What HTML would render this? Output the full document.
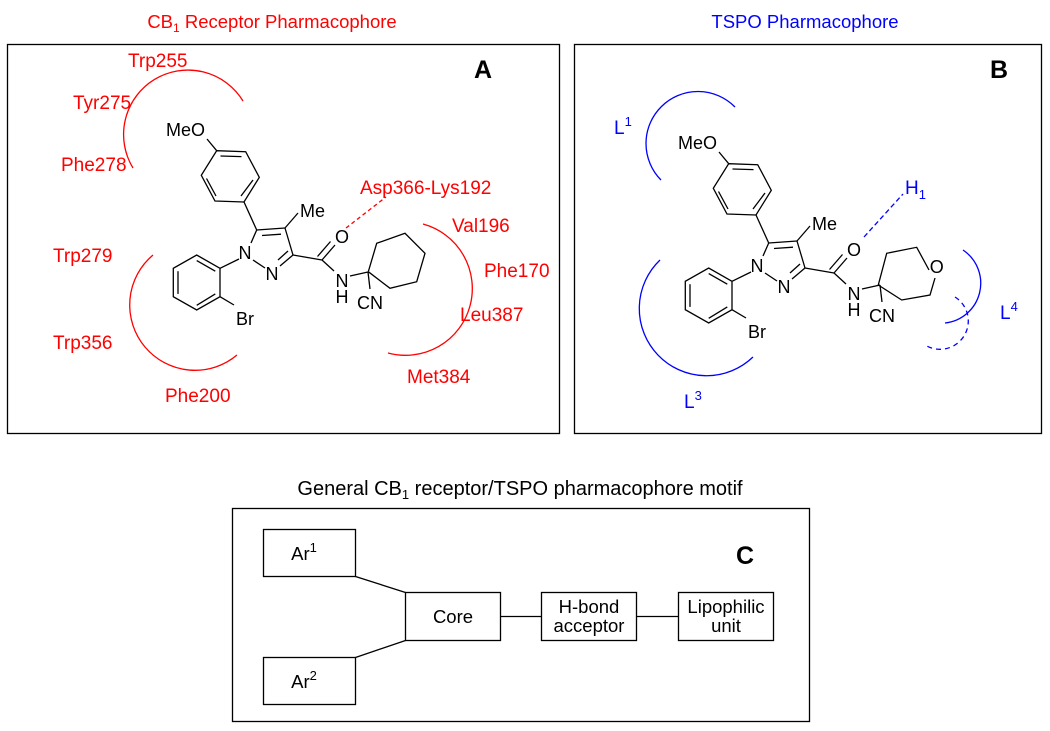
<!DOCTYPE html>
<html><head><meta charset="utf-8"><style>
html,body{margin:0;padding:0;background:#fff;}
svg{display:block;font-family:"Liberation Sans",Arial,sans-serif;}
</style></head><body>
<svg width="1050" height="731" viewBox="0 0 1050 731" xmlns="http://www.w3.org/2000/svg">
<defs>
<g id="core" stroke="#000" stroke-width="1.3" fill="none">
  <polygon points="216.7,150.7 245.7,151.7 259.3,177.3 244,202 215,201 201.3,175.3"/>
  <line x1="220.5" y1="156" x2="241.5" y2="156.6"/>
  <line x1="253" y1="180" x2="241" y2="196"/>
  <line x1="216" y1="196" x2="206.5" y2="178.5"/>
  <line x1="207" y1="139" x2="216.7" y2="150.7"/>
  <line x1="244" y1="202" x2="256.7" y2="230"/>
  <line x1="256.7" y1="230" x2="285" y2="228"/>
  <line x1="262" y1="235.5" x2="281" y2="234.2"/>
  <line x1="285" y1="228" x2="293" y2="255"/>
  <line x1="293" y1="255" x2="280" y2="266"/>
  <line x1="288" y1="251" x2="278" y2="260"/>
  <line x1="265" y1="268" x2="253" y2="260"/>
  <line x1="256.7" y1="230" x2="251" y2="243"/>
  <line x1="285" y1="228" x2="298" y2="213"/>
  <line x1="293" y1="255" x2="322" y2="260"/>
  <line x1="322" y1="260" x2="335" y2="245"/>
  <line x1="317.5" y1="256.5" x2="330.5" y2="241.5"/>
  <line x1="322" y1="260" x2="334" y2="271"/>
  <line x1="350" y1="276" x2="368" y2="272"/>
  <line x1="368" y1="272" x2="370" y2="289"/>
  <line x1="239" y1="259" x2="220" y2="268.3"/>
  <polygon points="220,268.3 196.7,255 173.3,268.3 173.3,296.7 196.7,310 220,296.7"/>
  <line x1="215.3" y1="271.2" x2="196.7" y2="260.6"/>
  <line x1="178" y1="271.2" x2="178" y2="293.9"/>
  <line x1="196.7" y1="305.3" x2="215.3" y2="293.9"/>
  <line x1="220" y1="296.7" x2="234" y2="305"/>
</g>
<g id="labels" fill="#000" font-size="18">
  <text x="166" y="136">MeO</text>
  <text x="245" y="259" text-anchor="middle">N</text>
  <text x="272" y="280" text-anchor="middle">N</text>
  <text x="300" y="217">Me</text>
  <text x="342" y="243" text-anchor="middle">O</text>
  <text x="342" y="287" text-anchor="middle">N</text>
  <text x="342" y="303" text-anchor="middle">H</text>
  <text x="370" y="309" text-anchor="middle">CN</text>
  <text x="236" y="325">Br</text>
</g>
</defs>

<text x="272" y="28" fill="#f00" font-size="18.5" text-anchor="middle">CB<tspan font-size="12" dy="4">1</tspan><tspan dy="-4"> Receptor Pharmacophore</tspan></text>
<rect x="7.5" y="44.5" width="552" height="389" fill="none" stroke="#000" stroke-width="1.3"/>
<text x="474" y="78" font-size="25" font-weight="bold">A</text>
<use href="#core"/>
<use href="#labels"/>
<g stroke="#000" stroke-width="1.3" fill="none">
  <polyline points="368.3,271.7 376.7,243.3 405,233.3 425,253.3 416.7,281.7 390,288.3 368.3,271.7"/>
</g>
<g stroke="#f00" stroke-width="1.3" fill="none">
  <path d="M133,168 A64,64 0 1 1 243,101"/>
  <path d="M153,255 A63,63 0 1 0 237,355"/>
  <path d="M423,224 A65,65 0 0 1 388,353"/>
  <line x1="346" y1="228" x2="386" y2="197" stroke-dasharray="4,3"/>
</g>
<g fill="#f00" font-size="19">
  <text x="128" y="67">Trp255</text>
  <text x="73" y="109">Tyr275</text>
  <text x="61" y="171">Phe278</text>
  <text x="360" y="194">Asp366-Lys192</text>
  <text x="452" y="232">Val196</text>
  <text x="484" y="277">Phe170</text>
  <text x="460" y="321">Leu387</text>
  <text x="407" y="383">Met384</text>
  <text x="53" y="262">Trp279</text>
  <text x="53" y="349">Trp356</text>
  <text x="165" y="402">Phe200</text>
</g>

<text x="805" y="28" fill="#00f" font-size="18.5" text-anchor="middle">TSPO Pharmacophore</text>
<rect x="574.5" y="44.5" width="467" height="389" fill="none" stroke="#000" stroke-width="1.3"/>
<text x="990" y="78" font-size="25" font-weight="bold">B</text>
<g transform="translate(512,13)">
  <use href="#core"/>
  <use href="#labels"/>
  <g stroke="#000" stroke-width="1.3" fill="none">
    <polyline points="417,257 404.7,234.3 374.7,240.3 366.3,272 389.7,287 418,282 423,265"/>
  </g>
  <text x="424.7" y="260" font-size="18" text-anchor="middle">O</text>
</g>
<g stroke="#00f" stroke-width="1.3" fill="none">
  <path d="M661,180 A51,51 0 1 1 735,107"/>
  <path d="M660,260 A62,62 0 1 0 753,357"/>
  <path d="M963,250 A40,40 0 0 1 945,323"/>
  <path d="M955,297 A27,27 0 1 1 925,345" stroke-dasharray="5,4"/>
  <line x1="864" y1="237" x2="903" y2="194" stroke-dasharray="5,3"/>
</g>
<g fill="#00f" font-size="19">
  <text x="614" y="134">L<tspan font-size="13" dy="-8">1</tspan></text>
  <text x="905" y="194">H<tspan font-size="13" dy="5">1</tspan></text>
  <text x="684" y="408">L<tspan font-size="13" dy="-8">3</tspan></text>
  <text x="1000" y="319">L<tspan font-size="13" dy="-8">4</tspan></text>
</g>

<text x="520" y="495" font-size="20" text-anchor="middle">General CB<tspan font-size="13" dy="4">1</tspan><tspan dy="-4"> receptor/TSPO pharmacophore motif</tspan></text>
<rect x="232.5" y="508.5" width="577" height="213" fill="none" stroke="#000" stroke-width="1.3"/>
<text x="736" y="564" font-size="25" font-weight="bold">C</text>
<g stroke="#000" stroke-width="1.3" fill="none">
  <rect x="263.5" y="529.5" width="92" height="47"/>
  <rect x="263.5" y="657.5" width="92" height="47"/>
  <rect x="405.5" y="592.5" width="95" height="48"/>
  <rect x="541.5" y="592.5" width="95" height="48"/>
  <rect x="678.5" y="592.5" width="95" height="48"/>
  <line x1="355.5" y1="576.5" x2="405.5" y2="592.5"/>
  <line x1="355.5" y1="657.5" x2="405.5" y2="640.5"/>
  <line x1="500.5" y1="616.5" x2="541.5" y2="616.5"/>
  <line x1="636.5" y1="616.5" x2="678.5" y2="616.5"/>
</g>
<g font-size="18.5" text-anchor="middle" fill="#000">
  <text x="304" y="560">Ar<tspan font-size="13" dy="-8">1</tspan></text>
  <text x="304" y="688">Ar<tspan font-size="13" dy="-8">2</tspan></text>
  <text x="453" y="623">Core</text>
  <text x="589" y="613">H-bond</text>
  <text x="589" y="632">acceptor</text>
  <text x="726" y="613">Lipophilic</text>
  <text x="726" y="632">unit</text>
</g>
</svg>
</body></html>
